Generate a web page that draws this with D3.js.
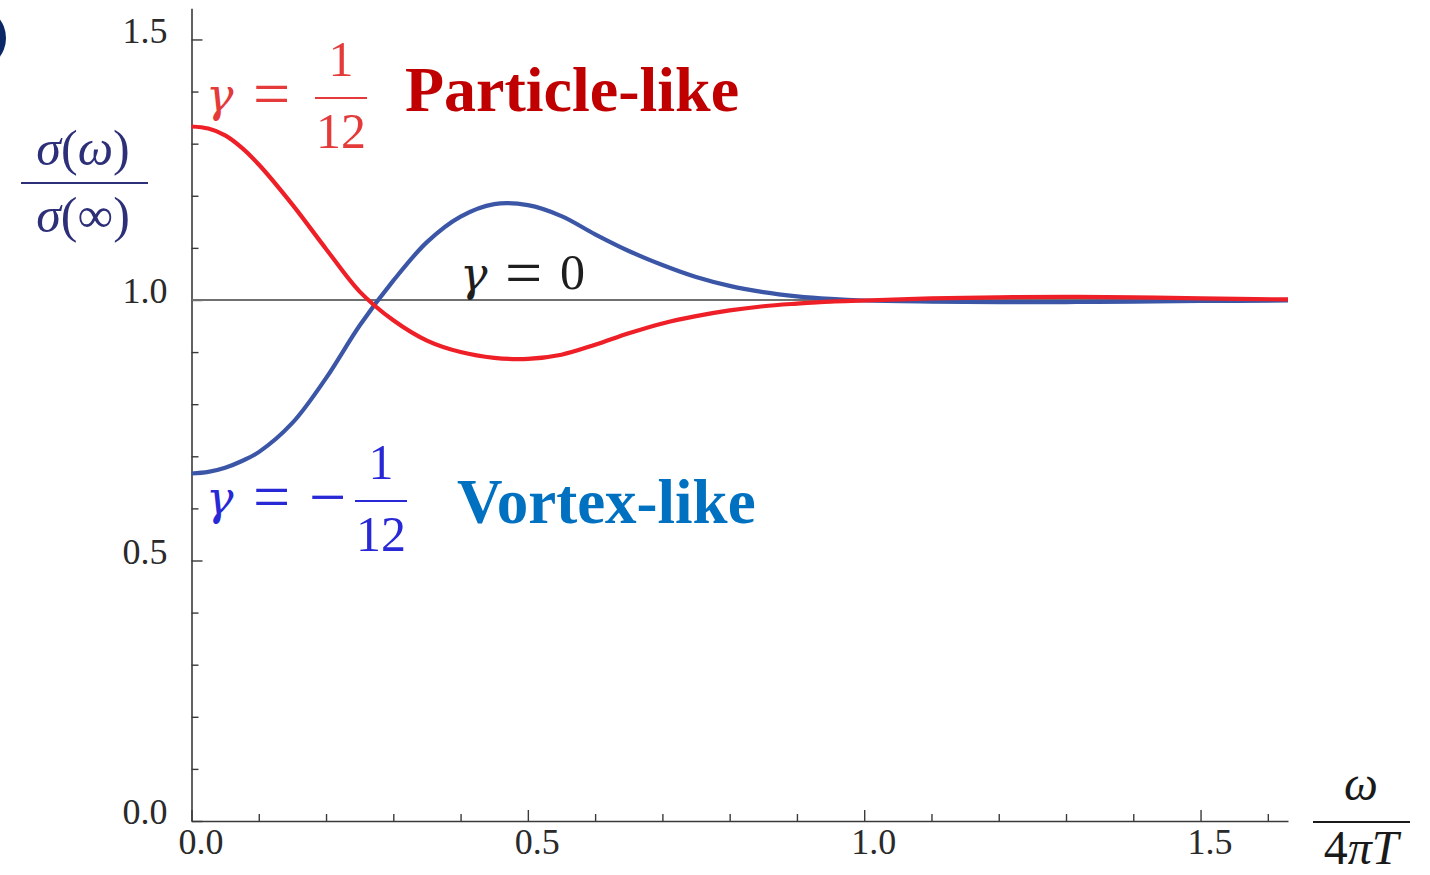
<!DOCTYPE html>
<html>
<head>
<meta charset="utf-8">
<script src="https://cdn.jsdelivr.net/npm/d3@7"></script>
<style>
  html, body { margin: 0; padding: 0; background: #fff; }
  svg { display: block; }
  text { font-family: "Liberation Serif", "Times New Roman", serif; }
  text.greek, tspan.greek { font-family: "DejaVu Serif", "Liberation Serif", serif; }
</style>
</head>
<body>
<svg id="chart" width="1430" height="875"></svg>
<script>
// Normalised conductivity sigma(omega)/sigma(inf) versus omega/(4 pi T)
const omega = [0, 0.025, 0.05, 0.075, 0.10, 0.15, 0.20, 0.25, 0.30, 0.35, 0.40, 0.45, 0.50,
               0.55, 0.60, 0.65, 0.70, 0.75, 0.80, 0.85, 0.90, 0.95, 1.00,
               1.10, 1.20, 1.30, 1.40, 1.50, 1.63];
// gamma = +1/12 (particle-like)
const sigmaParticle = [1.333, 1.329, 1.316, 1.292, 1.260, 1.183, 1.098, 1.016, 0.961, 0.922, 0.900, 0.889, 0.887,
                       0.895, 0.914, 0.936, 0.955, 0.969, 0.980, 0.988, 0.993, 0.997, 0.999,
                       1.003, 1.005, 1.006, 1.005, 1.003, 1.001];
// gamma = -1/12 (vortex-like)
const sigmaVortex = [0.667, 0.670, 0.678, 0.691, 0.708, 0.764, 0.850, 0.951, 1.037, 1.111, 1.160, 1.184, 1.182,
                     1.161, 1.126, 1.094, 1.067, 1.044, 1.027, 1.015, 1.007, 1.002, 0.999,
                     0.997, 0.996, 0.996, 0.997, 0.998, 0.999];
// gamma = 0 reference level
const sigmaFlat = 1.0;

const xMajorTicks = [0, 0.5, 1.0, 1.5];
const xTickLabels = ["0.0", "0.5", "1.0", "1.5"];
const xMinorTicks = [0.1, 0.2, 0.3, 0.4, 0.6, 0.7, 0.8, 0.9, 1.1, 1.2, 1.3, 1.4, 1.6];
const yMajorTicks = [0, 0.5, 1.0, 1.5];
const yTickLabels = ["0.0", "0.5", "1.0", "1.5"];
const yMinorTicks = [0.1, 0.2, 0.3, 0.4, 0.6, 0.7, 0.8, 0.9, 1.1, 1.2, 1.3, 1.4];

const svg = d3.select("#chart");

const x = d3.scaleLinear().domain([0, 1.63]).range([191.5, 1288]);
const y = d3.scaleLinear().domain([0, 1.56]).range([821, 8.2]);

// panel badge, partly outside the page on the left
svg.append("ellipse")
  .attr("cx", -22).attr("cy", 38).attr("rx", 28).attr("ry", 30)
  .attr("fill", "#0c2766");

// axes with inward ticks
const axisColor = "#3a3a3a";
const gx = svg.append("g").attr("transform", `translate(0,${y(0)})`);
gx.call(d3.axisBottom(x).tickValues(xMinorTicks).tickSize(-7).tickSizeOuter(0).tickFormat(""));
gx.call(g => g.select(".domain").remove());
const gxMajor = svg.append("g").attr("transform", `translate(0,${y(0)})`);
gxMajor.call(d3.axisBottom(x).tickValues(xMajorTicks).tickSize(-11).tickSizeOuter(0)
  .tickPadding(26).tickFormat((d, i) => xTickLabels[i]));

const gy = svg.append("g").attr("transform", `translate(${x(0)},0)`);
gy.call(d3.axisLeft(y).tickValues(yMinorTicks).tickSize(-7).tickSizeOuter(0).tickFormat(""));
gy.call(g => g.select(".domain").remove());
const gyMajor = svg.append("g").attr("transform", `translate(${x(0)},0)`);
gyMajor.call(d3.axisLeft(y).tickValues(yMajorTicks).tickSize(-11).tickSizeOuter(0)
  .tickPadding(24).tickFormat((d, i) => yTickLabels[i]));

svg.selectAll(".domain").attr("stroke", axisColor).attr("stroke-width", 1.6);
svg.selectAll(".tick line").attr("stroke", axisColor).attr("stroke-width", 1.4);
svg.selectAll(".tick text")
  .attr("font-size", 36).attr("fill", "#2a2a2a");
gxMajor.selectAll(".tick text").attr("dx", 9).attr("dy", "0.2em");
gyMajor.selectAll(".tick text").attr("dx", 0).attr("dy", "0.08em");

// gamma = 0 reference line
svg.append("line")
  .attr("x1", x(0)).attr("x2", x(1.63))
  .attr("y1", y(sigmaFlat)).attr("y2", y(sigmaFlat))
  .attr("stroke", "#707070").attr("stroke-width", 2);

const line = d3.line()
  .x((d, i) => x(omega[i]))
  .y(d => y(d))
  .curve(d3.curveCatmullRom.alpha(0.5));

svg.append("path").datum(sigmaVortex)
  .attr("d", line).attr("fill", "none")
  .attr("stroke", "#3b56a6").attr("stroke-width", 4.2);
svg.append("path").datum(sigmaParticle)
  .attr("d", line).attr("fill", "none")
  .attr("stroke", "#ee1f26").attr("stroke-width", 4.2);

// y-axis label: sigma(omega) / sigma(inf)
const navy = "#2d2f78";
const yl = svg.append("g").attr("fill", navy).attr("font-size", 50);
const num = yl.append("text").attr("x", 83).attr("y", 165).attr("text-anchor", "middle");
num.append("tspan").attr("font-style", "italic").text("σ");
num.append("tspan").text("(");
num.append("tspan").attr("font-style", "italic").text("ω");
num.append("tspan").text(")");
svg.append("line").attr("x1", 21).attr("x2", 148).attr("y1", 183).attr("y2", 183)
  .attr("stroke", navy).attr("stroke-width", 2);
const den = yl.append("text").attr("x", 83).attr("y", 232).attr("text-anchor", "middle");
den.append("tspan").attr("font-style", "italic").text("σ");
den.append("tspan").text("(∞)");

// x-axis label: omega / (4 pi T)
const xl = svg.append("g").attr("fill", "#1a1a1a").attr("font-size", 48);
xl.append("text").attr("x", 1361).attr("y", 800).attr("text-anchor", "middle")
  .attr("font-style", "italic").text("ω");
svg.append("line").attr("x1", 1313).attr("x2", 1410).attr("y1", 822).attr("y2", 822)
  .attr("stroke", "#1a1a1a").attr("stroke-width", 2);
const xden = xl.append("text").attr("x", 1361).attr("y", 864).attr("text-anchor", "middle");
xden.append("tspan").text("4");
xden.append("tspan").attr("font-style", "italic").text("πT");

// gamma annotations
function gammaFraction(x0, barY, color, negative) {
  const g = svg.append("g").attr("fill", color).attr("font-size", 50);
  g.append("text").attr("class", "greek").attr("x", x0).attr("y", barY + 13)
    .attr("font-size", 46).attr("font-style", "italic").text("γ");
  g.append("text").attr("x", x0 + 47).attr("y", barY + 18).attr("font-size", 66).text("=");
  let fx = x0 + 109;
  if (negative) {
    g.append("text").attr("x", x0 + 103).attr("y", barY + 18).attr("font-size", 66).text("−");
    fx = x0 + 149;
  }
  svg.append("line").attr("x1", fx).attr("x2", fx + 52)
    .attr("y1", barY).attr("y2", barY)
    .attr("stroke", color).attr("stroke-width", 2);
  g.append("text").attr("x", fx + 26).attr("y", barY - 22).attr("text-anchor", "middle").text("1");
  g.append("text").attr("x", fx + 26).attr("y", barY + 50).attr("text-anchor", "middle").text("12");
}
gammaFraction(206, 98, "#e53a3a", false);
gammaFraction(206, 501, "#2828d6", true);

const g0 = svg.append("g").attr("fill", "#1e1e1e").attr("font-size", 50);
g0.append("text").attr("class", "greek").attr("x", 460).attr("y", 290)
  .attr("font-size", 46).attr("font-style", "italic").text("γ");
g0.append("text").attr("x", 505).attr("y", 295).attr("font-size", 66).text("=");
g0.append("text").attr("x", 560).attr("y", 289).text("0");

// regime labels
svg.append("text").attr("x", 405).attr("y", 111)
  .attr("font-size", 64).attr("font-weight", "bold").attr("fill", "#c00000")
  .text("Particle-like");
svg.append("text").attr("x", 457).attr("y", 523)
  .attr("font-size", 63).attr("font-weight", "bold").attr("fill", "#0070c0")
  .text("Vortex-like");
</script>
</body>
</html>
